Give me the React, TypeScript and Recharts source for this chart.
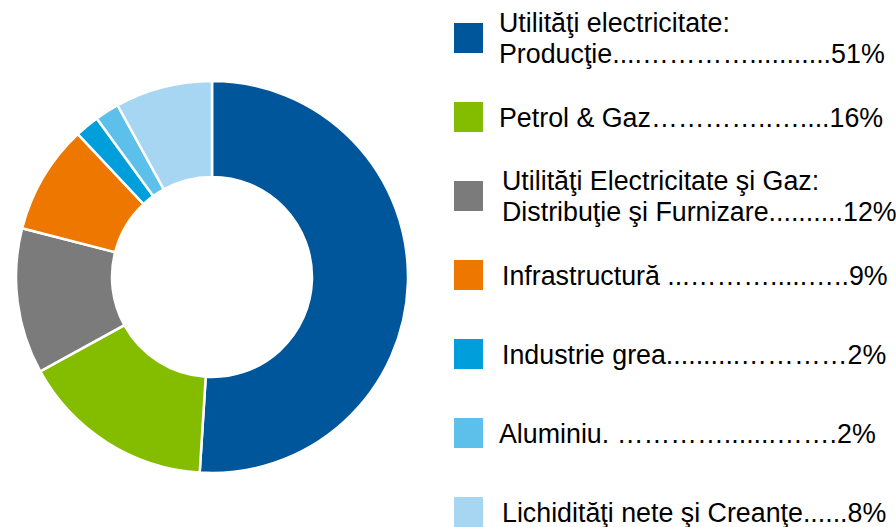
import React from 'react';
import { PieChart, Pie, Cell, Legend } from 'recharts';

const sectors = [
  'Utilităţi electricitate: Producţie',
  'Petrol & Gaz',
  'Utilităţi Electricitate şi Gaz: Distribuţie şi Furnizare',
  'Infrastructură',
  'Industrie grea',
  'Aluminiu',
  'Lichidităţi nete şi Creanţe',
];
const shares = [51, 16, 12, 9, 2, 2, 8];
const colors = ['#00569A', '#84BD00', '#7B7B7B', '#EE7700', '#009FDB', '#5CC0EB', '#A7D6F3'];
const legendLines: string[][] = [
  ['Utilităţi electricitate:', 'Producţie....…………...........51%'],
  ['Petrol & Gaz…………..…....16%'],
  ['Utilităţi Electricitate şi Gaz:', 'Distribuţie şi Furnizare..........12%'],
  ['Infrastructură ...……….....…..9%'],
  ['Industrie grea..........…………2%'],
  ['Aluminiu. ………….......…….2%'],
  ['Lichidităţi nete şi Creanţe......8%'],
];

const data = sectors.map((name, i) => ({ name, value: shares[i] }));

const LegendContent = () => (
  <div style={{ position: 'relative', width: 896, height: 527 }}>
    {data.map((d, i) => {
      const cy = 38 + i * 79;
      const lines = legendLines[i];
      return (
        <React.Fragment key={d.name}>
          <div
            style={{
              position: 'absolute',
              left: 454,
              top: cy - 15,
              width: 29,
              height: 30,
              background: colors[i],
            }}
          />
          <div
            style={{
              position: 'absolute',
              left: i === 2 || i === 3 || i === 4 || i === 6 ? 502 : 499,
              top: cy - (lines.length * 31) / 2 + 1,
              fontFamily: '"Liberation Sans", Arial, sans-serif',
              fontSize: 26.8,
              lineHeight: '31px',
              color: '#000',
              whiteSpace: 'nowrap',
            }}
          >
            {lines.map((l) => (
              <div key={l}>{l}</div>
            ))}
          </div>
        </React.Fragment>
      );
    })}
  </div>
);

export default function App() {
  return (
    <div style={{ position: 'absolute', left: 0, top: 0, width: 896, height: 527, background: '#fff' }}>
      <PieChart width={896} height={527} margin={{ top: 0, right: 0, bottom: 0, left: 0 }}>
        <Pie
          data={data}
          dataKey="value"
          nameKey="name"
          cx={212}
          cy={277}
          innerRadius={100}
          outerRadius={196}
          startAngle={90}
          endAngle={-270}
          stroke="#fff"
          strokeWidth={2.5}
          isAnimationActive={false}
        >
          {data.map((d, i) => (
            <Cell key={d.name} fill={colors[i]} />
          ))}
        </Pie>
        <Legend
          content={LegendContent}
          wrapperStyle={{ position: 'absolute', left: 0, top: 0, width: 896, height: 527, pointerEvents: 'none' }}
        />
      </PieChart>
    </div>
  );
}
